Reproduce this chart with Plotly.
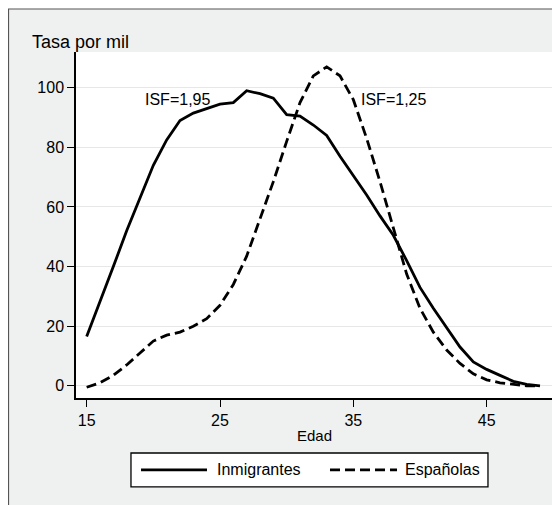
import plotly.graph_objects as go

ages = list(range(15, 50))
inmigrantes = [16.5, 28, 40, 52, 63, 74, 82.5, 89, 91.5, 93, 94.5, 95, 99, 98, 96.5,
               91, 90.5, 87.5, 84, 77, 70.5, 64, 57, 50.5, 42, 33, 26, 19.5, 13, 8,
               5.5, 3.5, 1.5, 0.5, 0]
espanolas = [-0.5, 1, 3.5, 7, 11, 15, 17, 18, 20, 22.5, 27, 34, 43.5, 56, 68.5,
             82, 95, 104, 107, 104, 96, 83, 68.5, 53, 37.5, 26, 18, 12, 7.5, 4,
             2, 1, 0.5, 0, 0]
series_names = ["Inmigrantes", "Españolas"]
x_ticks = [15, 25, 35, 45]
y_ticks = [0, 20, 40, 60, 80, 100]
isf_labels = ["ISF=1,95", "ISF=1,25"]

FONT = "Liberation Sans"
BG = "#eff1f0"

fig = go.Figure()
fig.add_trace(go.Scatter(x=ages, y=inmigrantes, mode="lines", name=series_names[0],
                         line=dict(color="black", width=2.8), showlegend=False))
fig.add_trace(go.Scatter(x=ages, y=espanolas, mode="lines", name=series_names[1],
                         line=dict(color="black", width=2.8, dash="10px,5px"), showlegend=False))

axis_common = dict(showline=True, linecolor="black", linewidth=1.5, ticks="outside",
                   ticklen=7, tickwidth=1.3, tickcolor="black", zeroline=False,
                   tickfont=dict(family=FONT, size=16, color="black"))
fig.update_xaxes(range=[14.2, 49.9], tickvals=x_ticks, showgrid=False, **axis_common)
fig.update_yaxes(range=[-4.1, 112], tickvals=y_ticks, showgrid=True, gridcolor="#e6e8e8",
                 gridwidth=1, **axis_common)

ann = []
ann.append(dict(text="Tasa por mil", xref="paper", yref="paper", x=-0.0966, y=1.029,
                xanchor="left", yanchor="middle", showarrow=False,
                font=dict(family=FONT, size=18, color="black")))
ann.append(dict(text="Edad", xref="paper", yref="paper", x=0.5, y=-0.107,
                xanchor="center", yanchor="middle", showarrow=False,
                font=dict(family=FONT, size=15, color="black")))
ann.append(dict(text=isf_labels[0], x=21.8, y=96, xref="x", yref="y", xanchor="center",
                yanchor="middle", showarrow=False, font=dict(family=FONT, size=16, color="black")))
ann.append(dict(text=isf_labels[1], x=35.45, y=96, xref="x", yref="y", xanchor="left",
                yanchor="middle", showarrow=False, font=dict(family=FONT, size=16, color="black")))
ann.append(dict(text=series_names[0], xref="paper", yref="paper", x=0.292, y=-0.208,
                xanchor="left", yanchor="middle", showarrow=False,
                font=dict(family=FONT, size=16, color="black")))
ann.append(dict(text=series_names[1], xref="paper", yref="paper", x=0.687, y=-0.208,
                xanchor="left", yanchor="middle", showarrow=False,
                font=dict(family=FONT, size=16, color="black")))

shapes = []
# gray framed background
shapes.append(dict(type="rect", xref="paper", yref="paper", x0=-0.1418, x1=1.0147,
                   y0=-0.35, y1=1.1243, fillcolor=BG, line=dict(color="#555555", width=1.2),
                   layer="below"))
# white plot area
shapes.append(dict(type="rect", xref="paper", yref="paper", x0=0, x1=1, y0=0, y1=1,
                   fillcolor="white", line=dict(width=0), layer="below"))
# legend box
shapes.append(dict(type="rect", xref="paper", yref="paper", x0=0.1155, x1=0.8655,
                   y0=-0.257, y1=-0.159, fillcolor="white", line=dict(color="black", width=1.3)))
shapes.append(dict(type="line", xref="paper", yref="paper", x0=0.1366, x1=0.2752,
                   y0=-0.208, y1=-0.208, line=dict(color="black", width=2.8)))
shapes.append(dict(type="line", xref="paper", yref="paper", x0=0.5336, x1=0.6744,
                   y0=-0.208, y1=-0.208, line=dict(color="black", width=2.8, dash="10px,5px")))

fig.update_layout(width=552, height=497, margin=dict(l=68, r=8, t=44, b=107),
                  paper_bgcolor="white", plot_bgcolor="white", annotations=ann, shapes=shapes,
                  showlegend=False, font=dict(family=FONT))

fig.write_html("out.html")
